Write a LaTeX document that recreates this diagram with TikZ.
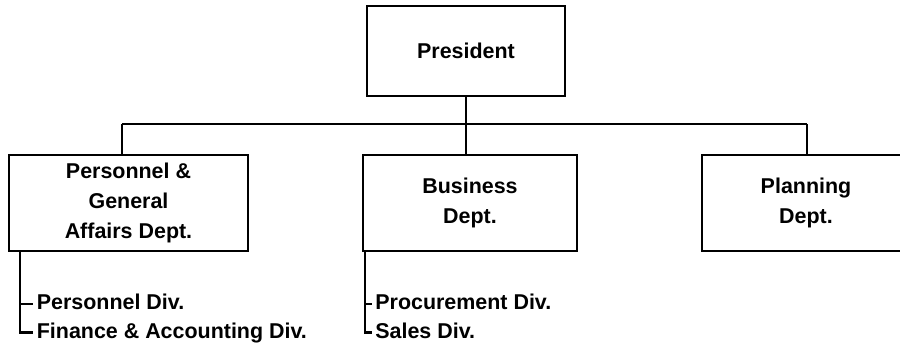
\documentclass[tikz,border=0pt]{standalone}
\usepackage{fontspec}
\setmainfont{Liberation Sans}
\tikzset{
	dept/.style = {draw, line width=1.2pt, minimum width=#1, minimum height=1.92cm, align=center, font=\bfseries\fontsize{12.2}{17}\selectfont},
	div/.style = {anchor=west, inner xsep=2pt, inner ysep=0pt, text height=9pt, text depth=2.5pt, font=\bfseries\fontsize{12.2}{17}\selectfont},
	link/.style = {line width=1.2pt},
	bus/.style = {line width=0.7pt}
}

\begin{document}
\begin{tikzpicture}
	\clip (0,0) rectangle (18,6.94);
	\node[dept=3.96cm, minimum height=1.8cm] (president) at (9.32,5.92) {President};
	\node[dept=4.78cm] (personnel) at (2.57,2.88) {Personnel \&\\General\\Affairs Dept.};
	\node[dept=4.28cm] (business) at (9.40,2.88) {Business\\Dept.};
	\node[dept=4.16cm] (planning) at (16.12,2.88) {Planning\\Dept.};
	\coordinate (busleft) at (2.44,4.46);
	\coordinate (busright) at (16.14,4.46);
	\draw[bus] (busleft) -- (busright);
	\draw[link] (president.south) -- (president.south |- business.north);
	\draw[link] (busleft) -- (busleft |- personnel.north);
	\draw[link] (busright) -- (busright |- planning.north);
	\node[div] (perdiv) at (0.66,0.86) {Personnel Div.};
	\node[div] (findiv) at (0.66,0.29) {Finance \& Accounting Div.};
	\node[div] (prodiv) at (7.43,0.86) {Procurement Div.};
	\node[div] (saldiv) at (7.43,0.29) {Sales Div.};
	\coordinate (perroot) at (0.40,1.92);
	\coordinate (busroot) at (7.30,1.92);
	\draw[link] (perroot) |- (findiv.west);
	\draw[link] (perroot |- perdiv.west) -- (perdiv.west);
	\draw[link] (busroot) |- (saldiv.west);
	\draw[link] (busroot |- prodiv.west) -- (prodiv.west);
\end{tikzpicture}
\end{document}
